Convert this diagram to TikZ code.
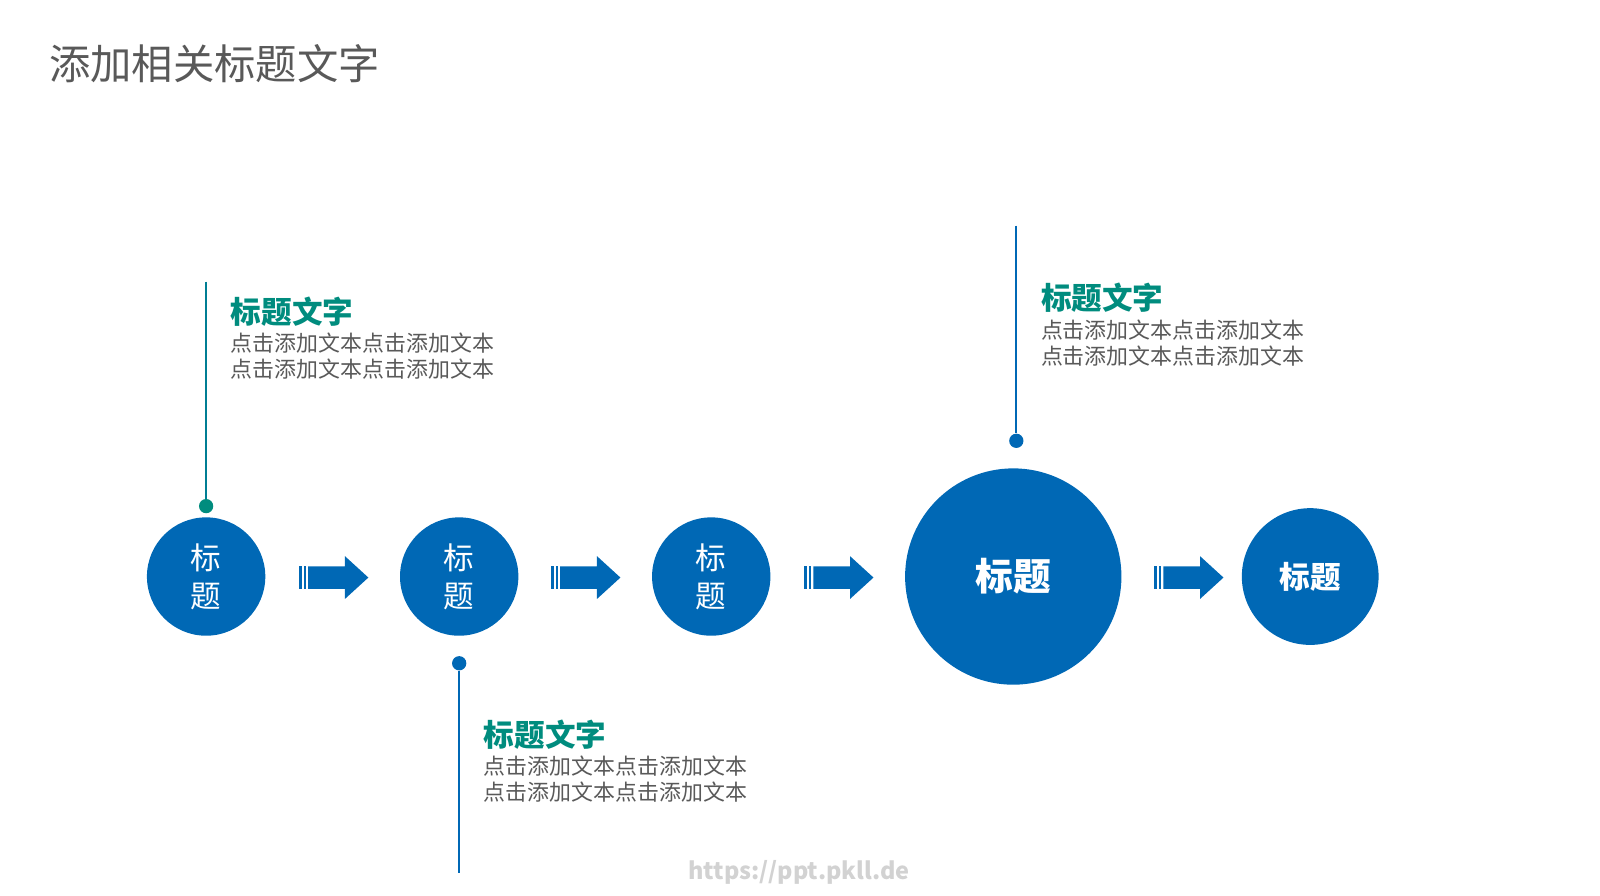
\documentclass[tikz,border=0pt]{standalone}
\usepackage{fontspec}
\setmainfont{Noto Sans CJK SC}
\definecolor{blu}{HTML}{0068B5}
\definecolor{tea}{HTML}{008C7E}
\definecolor{gry}{HTML}{595959}
\begin{document}
\begin{tikzpicture}[x=1pt,y=-1pt,
  circ/.style={circle,fill=blu,inner sep=0pt,text=white,align=center},
  dot/.style={circle,fill=blu,inner sep=0pt,minimum size=14pt},
  head/.style={anchor=west,text=tea,font=\fontsize{30}{33}\selectfont\bfseries,inner sep=0pt},
  body/.style={anchor=north west,text=gry,font=\fontsize{21.5}{25.5}\selectfont,align=left,inner sep=0pt},
  vline/.style={blu,line width=2pt}]
\useasboundingbox (0,0) rectangle (1568,878);
\node[anchor=west,text=gry,font=\fontsize{40.5}{44}\selectfont,inner sep=0pt] (title) at (48,62) {添加相关标题文字};
\newcommand\arr[2]{%
 \fill[blu] (#1,555) rectangle ++(2.5,22);
 \fill[blu] (#1+4.5,555) rectangle ++(2.5,22);
 \fill[blu] (#1+9,555) -- (#1+45,555) -- (#1+45,545) -- (#1+68,566) -- (#1+45,587) -- (#1+45,577) -- (#1+9,577) -- cycle;}
\node[circ,minimum size=116pt,font=\fontsize{30}{37}\selectfont] (c1) at (202,565) {标\\题};
\node[circ,minimum size=116pt,font=\fontsize{30}{37}\selectfont] (c2) at (450,565) {标\\题};
\node[circ,minimum size=116pt,font=\fontsize{30}{37}\selectfont] (c3) at (697,565) {标\\题};
\node[circ,minimum size=212pt,font=\fontsize{37}{40}\selectfont\bfseries] (c4) at (993,565) {标题};
\node[circ,minimum size=134pt,font=\fontsize{30}{36}\selectfont\bfseries] (c5) at (1284,565) {标题};
\arr{293}{}\arr{540}{}\arr{788}{}\arr{1131}{}
\node[dot,fill=tea] (d1) at (202,496) {};
\coordinate (t1) at (202,276);
\draw[vline,tea!60!blu] (t1) -- (d1);
\node[dot] (d2) at (450,650) {};
\coordinate (t2) at (450,856);
\draw[vline] (d2) -- (t2);
\node[dot] (d3) at (996,432) {};
\coordinate (t3) at (996,221);
\draw[vline] (t3) -- (d3);
\node[head] (h1) at (226,305) {标题文字};
\node[body] (b1) at (226,326) {点击添加文本点击添加文本\\点击添加文本点击添加文本};
\node[head] (h2) at (474,720) {标题文字};
\node[body] (b2) at (474,741) {点击添加文本点击添加文本\\点击添加文本点击添加文本};
\node[head] (h3) at (1020,292) {标题文字};
\node[body] (b3) at (1020,313) {点击添加文本点击添加文本\\点击添加文本点击添加文本};
\node[text=gray!35,font=\fontsize{23}{24}\selectfont\bfseries,inner sep=0pt] (wm) at (783,855) {https://ppt.pkll.de};
\end{tikzpicture}
\end{document}
